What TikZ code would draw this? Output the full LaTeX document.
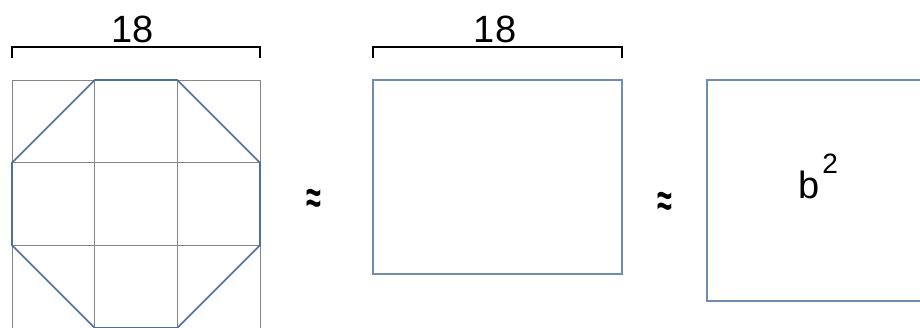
\documentclass[tikz,border=0pt]{standalone}
\usepackage{fontspec}
\setmainfont{Liberation Sans}
\usetikzlibrary{positioning}
\definecolor{gridGrey}{HTML}{858585}
\definecolor{octBlue}{HTML}{4E6E9E}
\definecolor{boxBlue}{HTML}{6F8DB0}

\begin{document}
\begin{tikzpicture}[x=1pt,y=-1pt,
      box/.style={draw=boxBlue,line width=1.4pt,inner sep=0pt},
      brk/.style={draw=black,line width=1.3pt},
      lbl/.style={font=\fontsize{38}{40}\selectfont,inner sep=0pt,anchor=base},
      apx/.style={font=\fontsize{27}{30}\selectfont\bfseries,inner sep=0pt}]
    \useasboundingbox (0,0) rectangle (920,327);
    \clip (0,0) rectangle (920,327);
    % grid with octagon
    \foreach \g in {12,94.7,177.3,260} {
      \draw[gridGrey,line width=0.9pt] (\g,80) -- (\g,340);
      \draw[gridGrey,line width=0.9pt] (12,\g+68) -- (260,\g+68);
    }
    \draw[octBlue,line width=1.6pt] (94.7,80) -- (177.3,80) -- (260,162.7) -- (260,245.3)
         -- (177.3,328) -- (94.7,328) -- (12,245.3) -- (12,162.7) -- cycle;
    % dimensions
    \draw[brk] (12,58) |- (260,47) -- (260,58);
    \node[lbl] (lenA) at (133,42) {18};
    \draw[brk] (373,58) |- (622,47) -- (622,58);
    \node[lbl] (lenB) at (495,42) {18};
    % rectangles
    \node[box,minimum width=249pt,minimum height=194pt] (mid) at (497.5,177) {};
    \node[box,minimum width=260pt,minimum height=221pt] (sq) at (837,190.5) {};
    \node[font=\fontsize{38}{40}\selectfont,inner sep=0pt,anchor=base west] (bsq) at (798,198)
         {b\hspace{3pt}\raisebox{25pt}{\fontsize{28}{30}\selectfont 2}};
    \node[apx] (eqA) at (314,201) {\scalebox{1}[1.7]{≈}};
    \node[apx] (eqB) at (664.5,204.5) {\scalebox{1}[1.7]{≈}};
  \end{tikzpicture}
\end{document}
